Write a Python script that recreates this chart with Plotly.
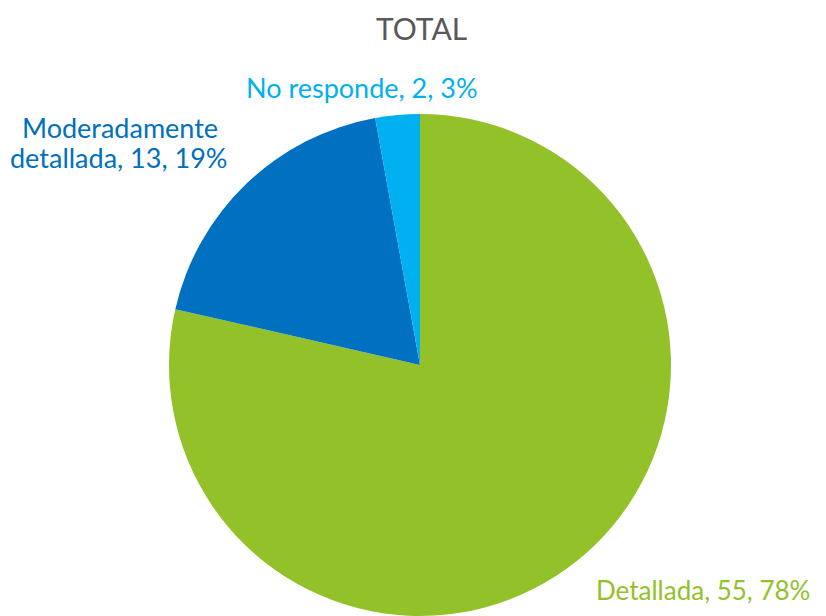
import plotly.graph_objects as go

categories = ["Detallada", "Moderadamente detallada", "No responde"]
values = [55, 13, 2]
percents = ["78%", "19%", "3%"]
colors = ["#92C12A", "#0070C0", "#00B0F0"]

W, H = 826, 616
OFF = 8  # page body margin shifts the figure by 8px
cx, cy, r = 420 - OFF, 365 - OFF, 251


def px(x, y):
    return (x - OFF) / W, 1 - (y - OFF) / H


fig = go.Figure()
fig.add_trace(
    go.Pie(
        labels=categories,
        values=values,
        sort=False,
        direction="clockwise",
        rotation=0,
        textinfo="none",
        hoverinfo="label+value+percent",
        marker=dict(colors=colors, line=dict(color="white", width=0)),
        domain=dict(x=[(cx - r) / W, (cx + r) / W], y=[(H - cy - r) / H, (H - cy + r) / H]),
        showlegend=False,
    )
)

font_family = "Lato, 'Noto Sans', sans-serif"
# (text, x, y, anchor, size, colour) in window pixels
labels = [
    (f"{categories[0]}, {values[0]}, {percents[0]}", 812, 590, "right", 26, colors[0]),
    ("Moderadamente", 120, 128, "center", 27, colors[1]),
    (f"detallada, {values[1]}, {percents[1]}", 118, 158, "center", 27, colors[1]),
    (f"{categories[2]}, {values[2]}, {percents[2]}", 362, 87, "center", 27, colors[2]),
]
for text, x, y, anchor, size, c in labels:
    ax, ay = px(x, y)
    fig.add_annotation(
        text=text, x=ax, y=ay, xref="paper", yref="paper",
        showarrow=False, xanchor=anchor, yanchor="middle",
        font=dict(family=font_family, size=size, color=c),
    )

tx, _ = px(421, 0)
fig.add_annotation(
    text="TOTAL", x=tx, y=1, xref="paper", yref="paper",
    showarrow=False, xanchor="center", yanchor="top",
    font=dict(family=font_family, size=30, color="#595959"),
)

fig.update_layout(
    width=W, height=H,
    margin=dict(l=0, r=0, t=0, b=0),
    paper_bgcolor="white",
    plot_bgcolor="white",
)

fig.write_html("out.html")
